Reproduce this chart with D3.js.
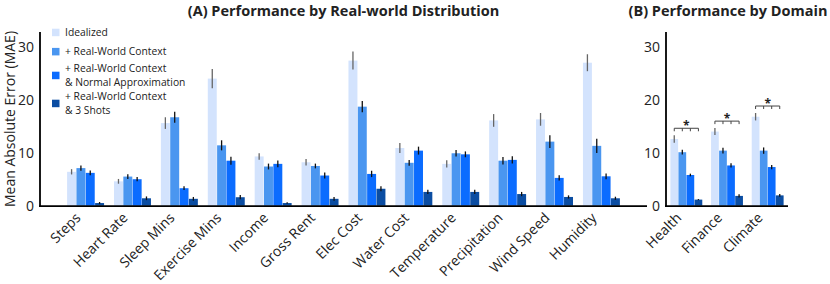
<!DOCTYPE html>
<html><head><meta charset="utf-8">
<script src="https://cdn.jsdelivr.net/npm/d3@7"></script>
<style>
body{margin:0;background:#fff;}
svg{display:block;font-family:"Open Sans",Roboto,sans-serif;}
</style></head>
<body><svg id="c" width="830" height="284"></svg>
<script>
const seriesNames = ["Idealized","+ Real-World Context","+ Real-World Context\n& Normal Approximation","+ Real-World Context\n& 3 Shots"];
const seriesColors = ["#d3e3fd","#4a96f0","#0b6cff","#0b4da2"];

const catsA = ["Steps","Heart Rate","Sleep Mins","Exercise Mins","Income","Gross Rent","Elec Cost","Water Cost","Temperature","Precipitation","Wind Speed","Humidity"];
const idealA  = [6.4, 4.6, 15.6, 24.0, 9.3, 8.2, 27.4, 10.9, 7.9, 16.1, 16.3, 27.0];
const rwA     = [7.1, 5.5, 16.7, 11.4, 7.4, 7.5, 18.7, 8.1, 9.9, 8.5, 12.1, 11.3];
const normA   = [6.2, 5.0, 3.3, 8.5, 7.9, 5.7, 6.0, 10.4, 9.7, 8.65, 5.25, 5.55];
const shotsA  = [0.5, 1.4, 1.3, 1.6, 0.5, 1.3, 3.2, 2.6, 2.6, 2.2, 1.65, 1.4];
const idealAErr = [0.5, 0.45, 1.1, 1.8, 0.6, 0.6, 1.7, 0.95, 0.7, 1.2, 1.2, 1.6];
const rwAErr    = [0.5, 0.45, 1.05, 0.95, 0.55, 0.45, 1.05, 0.55, 0.6, 0.7, 1.2, 1.35];
const normAErr  = [0.45, 0.4, 0.35, 0.75, 0.65, 0.55, 0.6, 0.75, 0.55, 0.7, 0.5, 0.55];
const shotsAErr = [0.2, 0.35, 0.35, 0.4, 0.15, 0.35, 0.45, 0.4, 0.4, 0.4, 0.3, 0.3];

const catsB = ["Health","Finance","Climate"];
const idealB  = [12.6, 14.0, 16.8];
const rwB     = [10.1, 10.4, 10.4];
const normB   = [5.8, 7.6, 7.3];
const shotsB  = [1.15, 1.85, 1.95];
const idealBErr = [0.7, 0.65, 0.7];
const rwBErr    = [0.45, 0.55, 0.6];
const normBErr  = [0.25, 0.4, 0.4];
const shotsBErr = [0.1, 0.3, 0.25];
const sigB = ["*","*","*"];

const yTicks = [0,10,20,30];
const titleA = "(A) Performance by Real-world Distribution";
const titleB = "(B) Performance by Domain";
const yLabel = "Mean Absolute Error (MAE)";

const svg = d3.select("#c");
const y = d3.scaleLinear().domain([0, 32.8]).range([205.7, 32]);

function panel(cats, vals, errs, x0, x1, padIn, padOut, title, titleX) {
  const g = svg.append("g");
  const x = d3.scaleBand().domain(cats).range([x0, x1]).paddingInner(padIn).paddingOuter(padOut);
  const xs = d3.scaleBand().domain(d3.range(4)).range([0, x.bandwidth()]).padding(0.04);
  cats.forEach((c, i) => {
    for (let s = 0; s < 4; s++) {
      const v = vals[s][i], e = errs[s][i];
      const bx = x(c) + xs(s);
      g.append("rect").attr("x", bx).attr("y", y(v)).attr("width", xs.bandwidth())
        .attr("height", y(0) - y(v)).attr("fill", seriesColors[s]);
      const cx = bx + xs.bandwidth()/2;
      g.append("line").attr("x1", cx).attr("x2", cx).attr("y1", y(v+e)).attr("y2", y(Math.max(0,v-e)))
        .attr("stroke", s === 0 ? "#666" : "#111").attr("stroke-width", 1.3);
    }
  });
  const ya = d3.axisLeft(y).tickValues(yTicks).tickSize(0).tickPadding(6);
  const ag = g.append("g").attr("transform", `translate(${x0},0)`).call(ya);
  ag.select(".domain").remove();
  ag.selectAll("text").attr("font-size", 14).attr("fill", "#222").attr("font-family", "'Open Sans',sans-serif");
  g.append("line").attr("x1", x0).attr("x2", x0).attr("y1", y.range()[1]).attr("y2", y(0)+1)
    .attr("stroke", "#000").attr("stroke-width", 1.8);
  g.append("line").attr("x1", x0-1).attr("x2", x1).attr("y1", y(0)+0.5).attr("y2", y(0)+0.5)
    .attr("stroke", "#000").attr("stroke-width", 1.8);
  const xa = d3.axisBottom(x).tickSize(0).tickPadding(0);
  const xg = g.append("g").attr("transform", `translate(0,${y(0)})`).call(xa);
  xg.select(".domain").remove();
  xg.selectAll(".tick text").attr("font-size", 14).attr("fill", "#222").attr("font-family", "'Open Sans',sans-serif")
    .attr("text-anchor", "end").attr("dy", null).attr("y", 0)
    .attr("transform", "translate(-4,13) rotate(-45)");
  svg.append("text").attr("x", titleX).attr("y", 16).attr("text-anchor", "middle")
    .attr("font-size", 14.5).attr("font-weight", "bold").attr("fill", "#222").text(title);
  return {x, xs, g};
}

const A = panel(catsA, [idealA, rwA, normA, shotsA], [idealAErr, rwAErr, normAErr, shotsAErr], 40, 647, 0.196, 0.57, titleA, 343.5);
const B = panel(catsB, [idealB, rwB, normB, shotsB], [idealBErr, rwBErr, normBErr, shotsBErr], 666, 788, 0.2, 0.1, titleB, 728);

catsB.forEach((c, i) => {
  const by = y(idealB[i] + idealBErr[i]) - 7;
  const cxs = d3.range(4).map(s => B.x(c) + B.xs(s) + B.xs.bandwidth()/2);
  const g = B.g;
  g.append("line").attr("x1", cxs[0]).attr("x2", cxs[3]).attr("y1", by).attr("y2", by).attr("stroke", "#444").attr("stroke-width", 1);
  cxs.forEach(cx => g.append("line").attr("x1", cx).attr("x2", cx).attr("y1", by).attr("y2", by+3).attr("stroke", "#444").attr("stroke-width", 1));
  g.append("text").attr("x", (cxs[0]+cxs[3])/2).attr("y", by+2).attr("text-anchor", "middle")
    .attr("font-size", 12).attr("font-weight", "bold").attr("fill", "#222").text(sigB[i]);
});

svg.append("text").attr("transform", "translate(15,119) rotate(-90)").attr("text-anchor", "middle")
  .attr("font-size", 14).attr("fill", "#222").text(yLabel);

const legY = [32.5, 51.7, 75.5, 103.5];
seriesNames.forEach((n, i) => {
  svg.append("rect").attr("x", 52).attr("y", legY[i]-3.8).attr("width", 7.5).attr("height", 7.5).attr("fill", seriesColors[i]);
  const lines = n.split("\n");
  lines.forEach((l, k) => {
    const off = lines.length === 1 ? 0 : (k === 0 ? -7 : 7);
    svg.append("text").attr("font-size", 10.3).attr("fill", "#222")
      .attr("x", 65).attr("y", legY[i] + off).attr("dy", "0.35em").text(l);
  });
});
</script></body></html>
